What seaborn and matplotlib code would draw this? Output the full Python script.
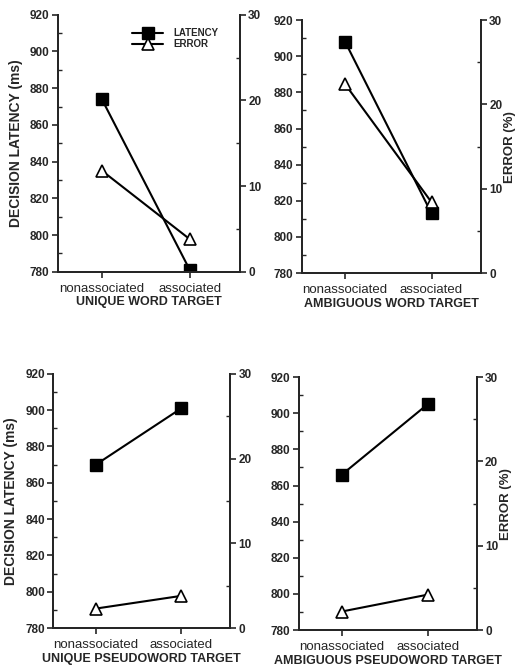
"""
Decision latency and error rate for word / pseudoword targets,
nonassociated vs associated primes (four panels, twin y axes).
"""

import numpy as np
import matplotlib as mpl
import matplotlib.pyplot as plt
from matplotlib.ticker import MultipleLocator
import seaborn as sns

categories = ["nonassociated", "associated"]

# latency in ms (left axis), error in % (right axis)
latency_unique_word = [874, 781]
error_unique_word = [11.8, 3.8]
latency_ambig_word = [908, 813]
error_ambig_word = [22.4, 8.4]
latency_unique_pseudo = [870, 901]
error_unique_pseudo = [2.3, 3.8]
latency_ambig_pseudo = [866, 905]
error_ambig_pseudo = [2.2, 4.2]

panel_titles = ["UNIQUE WORD TARGET", "AMBIGUOUS WORD TARGET",
                "UNIQUE PSEUDOWORD TARGET", "AMBIGUOUS PSEUDOWORD TARGET"]

sns.set_style("ticks")
plt.rcParams['font.family'] = ['Liberation Sans', 'DejaVu Sans']
mpl.rcParams['axes.linewidth'] = 1.4

# axes rectangles in figure fractions
rects = [
    [0.112, 0.595, 0.352, 0.383],
    [0.584, 0.593, 0.346, 0.377],
    [0.103, 0.064, 0.342, 0.379],
    [0.578, 0.061, 0.344, 0.377],
]

panels = [
    (latency_unique_word, error_unique_word),
    (latency_ambig_word, error_ambig_word),
    (latency_unique_pseudo, error_unique_pseudo),
    (latency_ambig_pseudo, error_ambig_pseudo),
]

fig = plt.figure(figsize=(5.17, 6.71), dpi=100)
pos = np.arange(len(categories))

for i, (rect, (lat, err)) in enumerate(zip(rects, panels)):
    ax = fig.add_axes(rect)
    ax2 = ax.twinx()

    sns.lineplot(x=pos, y=lat, ax=ax, color='black', linewidth=1.5,
                 marker='s', markersize=9, markerfacecolor='black',
                 markeredgecolor='black', markeredgewidth=1, sort=False,
                 label='LATENCY')
    sns.lineplot(x=pos, y=err, ax=ax2, color='black', linewidth=1.5,
                 marker='^', markersize=9, markerfacecolor='white',
                 markeredgecolor='black', markeredgewidth=1.2, sort=False,
                 label='ERROR')

    ax.set_xlim(-0.5, 1.57)
    ax.set_ylim(780, 920)
    ax2.set_ylim(0, 30)
    ax.set_yticks(range(780, 921, 20))
    ax.yaxis.set_minor_locator(MultipleLocator(10))
    ax2.set_yticks([0, 10, 20, 30])
    ax2.yaxis.set_minor_locator(MultipleLocator(5))
    ax.set_xticks(pos)
    ax.set_xticklabels(categories, fontsize=9.5)

    for a in (ax, ax2):
        a.spines['top'].set_visible(False)
        a.tick_params(axis='y', which='major', direction='out', length=4,
                      width=1.2, labelsize=8.5, pad=2)
        a.tick_params(axis='y', which='minor', direction='in', length=3, width=1)
        for t in a.get_yticklabels():
            t.set_fontweight('bold')
    ax.tick_params(axis='x', direction='out', length=4, width=1.2, pad=4)

    ax.set_xlabel(panel_titles[i], fontsize=9, fontweight='bold', labelpad=1)
    ax.set_ylabel('')
    ax2.set_ylabel('')
    if i % 2 == 0:
        ax.set_ylabel('DECISION LATENCY (ms)', fontsize=10, fontweight='bold',
                      labelpad=5)
    else:
        ax2.set_ylabel('ERROR (%)', fontsize=9.5, fontweight='bold', labelpad=1.5)

    leg1 = ax.get_legend()
    if leg1 is not None:
        leg1.remove()
    leg2 = ax2.get_legend()
    if leg2 is not None:
        leg2.remove()

    if i == 0:
        h1, l1 = ax.get_legend_handles_labels()
        h2, l2 = ax2.get_legend_handles_labels()
        ax2.legend(h1 + h2, l1 + l2, loc='upper left', bbox_to_anchor=(0.37, 0.975),
                   frameon=False, handlelength=3.2, borderpad=0.2,
                   labelspacing=0.15, handletextpad=1.1,
                   prop={'size': 7, 'weight': 'bold'})

plt.savefig('out.png', dpi=100)
